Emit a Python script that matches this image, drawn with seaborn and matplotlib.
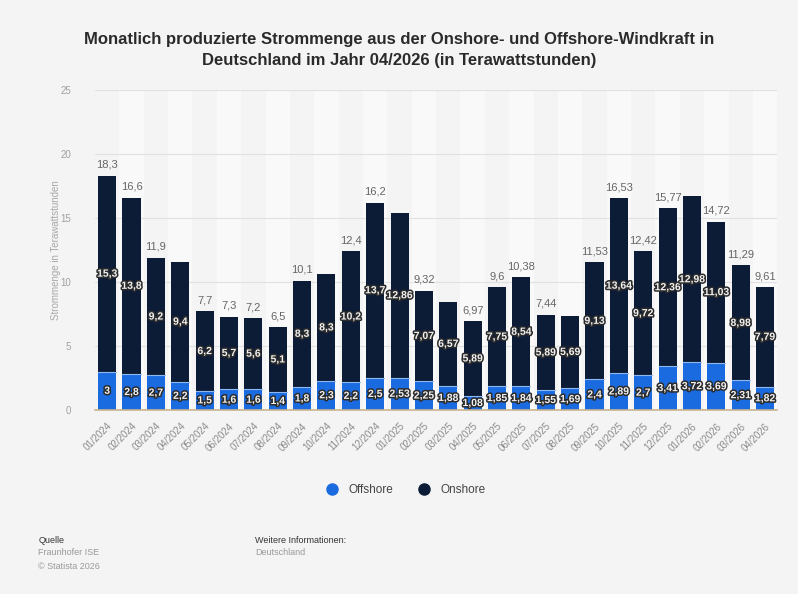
import matplotlib
matplotlib.use("Agg")
import matplotlib.pyplot as plt
import matplotlib.patheffects as pe
import seaborn as sns
import pandas as pd
from matplotlib.lines import Line2D

months = ["01/2024", "02/2024", "03/2024", "04/2024", "05/2024", "06/2024", "07/2024",
          "08/2024", "09/2024", "10/2024", "11/2024", "12/2024", "01/2025", "02/2025",
          "03/2025", "04/2025", "05/2025", "06/2025", "07/2025", "08/2025", "09/2025",
          "10/2025", "11/2025", "12/2025", "01/2026", "02/2026", "03/2026", "04/2026"]
offshore = [3, 2.8, 2.7, 2.2, 1.5, 1.6, 1.6, 1.4, 1.8, 2.3, 2.2, 2.5, 2.53, 2.25,
            1.88, 1.08, 1.85, 1.84, 1.55, 1.69, 2.4, 2.89, 2.7, 3.41, 3.72, 3.69, 2.31, 1.82]
onshore = [15.3, 13.8, 9.2, 9.4, 6.2, 5.7, 5.6, 5.1, 8.3, 8.3, 10.2, 13.7, 12.86, 7.07,
           6.57, 5.89, 7.75, 8.54, 5.89, 5.69, 9.13, 13.64, 9.72, 12.36, 12.98, 11.03, 8.98, 7.79]
# totals whose label is printed above the bar
show_total = [1, 1, 1, 0, 1, 1, 1, 1, 1, 0, 1, 1, 0, 1,
              0, 1, 1, 1, 1, 0, 1, 1, 1, 1, 0, 1, 1, 1]

yticks = [0, 5, 10, 15, 20, 25]

C_OFF = "#1b6be0"
C_ON = "#0c1c37"
BG = "#f4f4f4"

df = pd.DataFrame({"Monat": months, "Offshore": offshore, "Onshore": onshore})
df["Gesamt"] = (df["Offshore"] + df["Onshore"]).round(2)


def fmt(v):
    return f"{round(v, 2):g}".replace(".", ",")


sns.set_theme(style="white")
plt.rcParams["font.family"] = ["Liberation Sans", "DejaVu Sans"]

fig = plt.figure(figsize=(7.98, 5.94), dpi=100, facecolor=BG)
ax = fig.add_axes([0.119, 0.3098, 0.855, 0.5387])
ax.set_facecolor(BG)

# faint alternating column bands
for i in range(len(months)):
    if i % 2 == 1:
        ax.axvspan(i - 0.5, i + 0.5, color="#f9f9f9", zorder=0, lw=0)

for t in yticks[1:]:
    ax.axhline(t, color="#e1e1e1", lw=0.8, zorder=0.5)

sns.barplot(data=df, x="Monat", y="Gesamt", color=C_ON, width=0.74, saturation=1,
            ax=ax, zorder=2, linewidth=0)
sns.barplot(data=df, x="Monat", y="Offshore", color=C_OFF, width=0.74, saturation=1,
            ax=ax, zorder=3, linewidth=0)

halo = [pe.withStroke(linewidth=2.2, foreground="#2b2b2b")]
for i, (o, n, tot, s) in enumerate(zip(df["Offshore"], df["Onshore"], df["Gesamt"], show_total)):
    ax.plot([i - 0.37, i + 0.37], [o, o], color="#8fb8f0", lw=0.8, zorder=4)
    ax.text(i, o / 2, fmt(o), ha="center", va="center", fontsize=7.5, fontweight="bold",
            color="#f2f2f2", path_effects=halo, zorder=6)
    ax.text(i, o + n / 2, fmt(n), ha="center", va="center", fontsize=7.5, fontweight="bold",
            color="#f2f2f2", path_effects=halo, zorder=6)
    if s:
        ax.text(i, tot + 0.45, fmt(tot), ha="center", va="bottom", fontsize=8,
                color="#666666", zorder=6)

ax.set_xlim(-0.5, len(months) - 0.5)
ax.set_ylim(0, 25)
ax.set_yticks(yticks)
ax.set_yticklabels([str(t) for t in yticks], fontsize=7, color="#a0a0a0")
ax.set_xticks(range(len(months)))
ax.set_xticklabels(months, rotation=45, ha="right", rotation_mode="anchor",
                   fontsize=7, color="#8a8a8a")
ax.tick_params(axis="x", length=3, color="#bbbbbb", pad=5)
ax.tick_params(axis="y", length=0, pad=17)
ax.set_xlabel("")
ax.set_ylabel("Strommenge in Terawattstunden", fontsize=7, color="#a8a8a8", labelpad=0)
for side in ["top", "right", "left"]:
    ax.spines[side].set_visible(False)
ax.spines["bottom"].set_color("#c9b48f")
ax.spines["bottom"].set_linewidth(1.2)
ax.spines["bottom"].set_zorder(7)

fig.text(0.5, 0.916, "Monatlich produzierte Strommenge aus der Onshore- und Offshore-Windkraft in\n"
         "Deutschland im Jahr 04/2026 (in Terawattstunden)", ha="center", va="center",
         fontsize=12, fontweight="bold", color="#2a2a2a", linespacing=1.45)

handles = [Line2D([], [], marker="o", ls="", markersize=8, color=C_OFF),
           Line2D([], [], marker="o", ls="", markersize=8, color=C_ON)]
fig.legend(handles, ["Offshore", "Onshore"], loc="center", bbox_to_anchor=(0.505, 0.175),
           ncol=2, frameon=False, fontsize=8.5, handletextpad=0.4, columnspacing=1.6,
           labelcolor="#444444")

fig.text(0.048, 0.086, "Quelle", fontsize=6.5, color="#333333")
fig.text(0.048, 0.065, "Fraunhofer ISE", fontsize=6.5, color="#999999")
fig.text(0.048, 0.042, "© Statista 2026", fontsize=6.5, color="#999999")
fig.text(0.32, 0.086, "Weitere Informationen:", fontsize=6.5, color="#333333")
fig.text(0.32, 0.065, "Deutschland", fontsize=6.5, color="#999999")

fig.savefig("out.png", dpi=100, facecolor=BG)
